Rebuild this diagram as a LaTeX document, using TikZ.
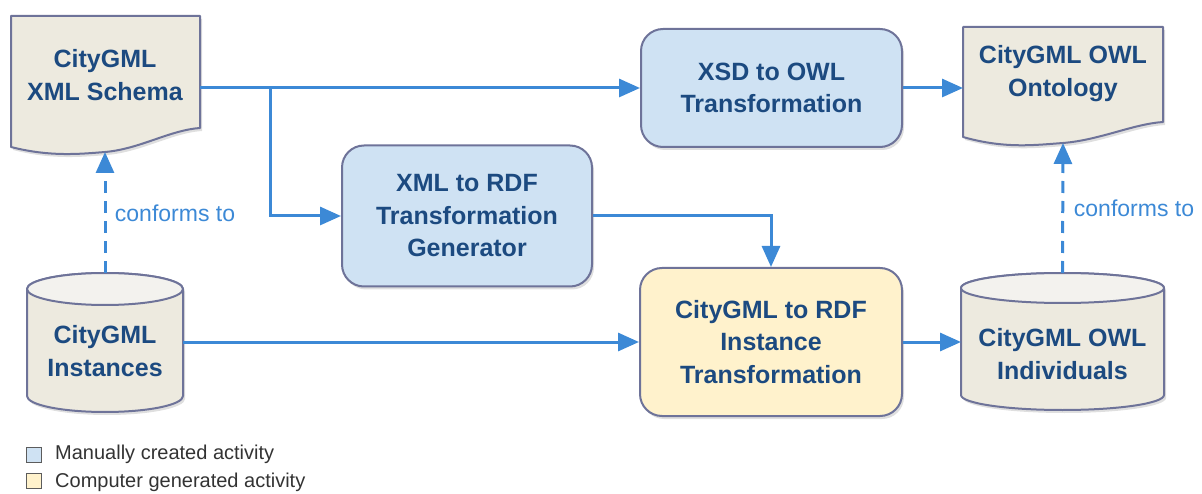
\documentclass[tikz,border=0pt]{standalone}
\usepackage{fontspec}
\setmainfont{Liberation Sans}
\usetikzlibrary{arrows.meta,shadows,calc}
\definecolor{docfill}{HTML}{EDEADF}
\definecolor{cyltop}{HTML}{F3F2EE}
\definecolor{shapeborder}{HTML}{6E7399}
\definecolor{bluefill}{HTML}{CFE2F3}
\definecolor{yellowfill}{HTML}{FFF2CC}
\definecolor{textblue}{HTML}{1C4A80}
\definecolor{arrowblue}{HTML}{3C89D6}
\definecolor{legendtext}{HTML}{333333}
\begin{document}
\begin{tikzpicture}[x=1pt,y=-1pt,
  shapeline/.style={draw=shapeborder, line width=2pt, line join=round},
  shade3d/.style={drop shadow={opacity=0.25, shadow xshift=2pt, shadow yshift=-3pt}},
  docshape/.style={shapeline, fill=docfill, shade3d},
  cylbody/.style={shapeline, fill=docfill, shade3d},
  cyltopst/.style={shapeline, fill=cyltop},
  frame/.style={inner sep=0pt, outer sep=0pt, draw=none},
  boxtext/.style={text=textblue, font=\bfseries\fontsize{25}{32.5}\selectfont, align=center},
  procbox/.style={shapeline, rounded corners=22pt, inner sep=0pt, shade3d, boxtext},
  arr/.style={draw=arrowblue, line width=3pt, -{Triangle[length=21pt,width=18pt]}},
  dasharr/.style={arr, dash pattern=on 12pt off 8pt},
  conf/.style={text=arrowblue, font=\fontsize{23}{27}\selectfont},
  legsq/.style={draw=legendtext!80, line width=1pt, minimum size=15pt, inner sep=0pt},
  legtext/.style={text=legendtext, font=\fontsize{20}{23}\selectfont, anchor=west, inner sep=0pt}
]
\useasboundingbox (0,0) rectangle (1202,494);

% ---------- documents ----------
\path[docshape] (11,16) -- (200,16) -- (200,128)
  .. controls (170,130) and (140,149) .. (105,152)
  .. controls (80,154) and (50,157) .. (11,147) -- cycle;
\node[frame, minimum width=189pt, minimum height=131pt] (doc1) at (105.5,81.5) {};
\node[boxtext] (doc1t) at (105,75) {CityGML\\XML Schema};
\coordinate (doc1b) at (105,152);

\path[docshape] (963,27) -- (1163,27) -- (1163,122)
  .. controls (1133,124) and (1100,140) .. (1063,143)
  .. controls (1035,145) and (1005,149) .. (963,137) -- cycle;
\node[frame, minimum width=200pt, minimum height=110pt] (doc2) at (1063,82) {};
\node[boxtext] (doc2t) at (1063,73.5) {CityGML OWL\\Ontology};
\coordinate (doc2b) at (1063,143);

% ---------- cylinders ----------
\path[cylbody] (27,289) -- (27,396)
  arc[start angle=180, end angle=360, x radius=78pt, y radius=16pt]
  -- (183,289)
  arc[start angle=0, end angle=180, x radius=78pt, y radius=16pt] -- cycle;
\path[cyltopst] (105,289) ellipse [x radius=78pt, y radius=16pt];
\node[frame, minimum width=156pt, minimum height=139pt] (inst) at (105,342.5) {};
\node[boxtext] (instt) at (105,351) {CityGML\\Instances};

\path[cylbody] (961,288) -- (961,395)
  arc[start angle=180, end angle=360, x radius=101.5pt, y radius=15pt]
  -- (1164,288)
  arc[start angle=0, end angle=180, x radius=101.5pt, y radius=15pt] -- cycle;
\path[cyltopst] (1062.5,288) ellipse [x radius=101.5pt, y radius=15pt];
\node[frame, minimum width=203pt, minimum height=137pt] (ind) at (1062.5,341.5) {};
\node[boxtext] (indt) at (1062.5,354) {CityGML OWL\\Individuals};

% ---------- processes ----------
\node[procbox, fill=bluefill, minimum width=261pt, minimum height=118pt] (xsd) at (771.5,88) {XSD to OWL\\Transformation};
\node[procbox, fill=bluefill, minimum width=250pt, minimum height=141pt] (xrdf) at (467,216) {XML to RDF\\Transformation\\Generator};
\node[procbox, fill=yellowfill, minimum width=262pt, minimum height=148pt] (c2r) at (771,342) {CityGML to RDF\\Instance\\Transformation};

% ---------- connectors ----------
\draw[arr] (doc1.east |- xsd.west) -- (xsd.west);
\draw[arr] (doc1.east |- xsd.west) -- ++(70,0) |- (xrdf.west);
\draw[arr] (xsd.east) -- (doc2.west |- xsd.east);
\draw[arr] (xrdf.east) -| (c2r.north);
\draw[arr] (inst.east |- c2r.west) -- (c2r.west);
\draw[arr] (c2r.east) -- (ind.west |- c2r.east);
\draw[dasharr] (inst.north) -- (doc1b);
\draw[dasharr] (ind.north) -- (doc2b);

\node[conf] (conf1) at (175,213) {conforms to};
\node[conf] (conf2) at (1134,208) {conforms to};

% ---------- legend ----------
\node[legsq, fill=bluefill] (leg1) at (34,455) {};
\node[legtext] (leg1t) at (55,454) {Manually created activity};
\node[legsq, fill=yellowfill] (leg2) at (34,481) {};
\node[legtext] (leg2t) at (55,482) {Computer generated activity};
\end{tikzpicture}
\end{document}
